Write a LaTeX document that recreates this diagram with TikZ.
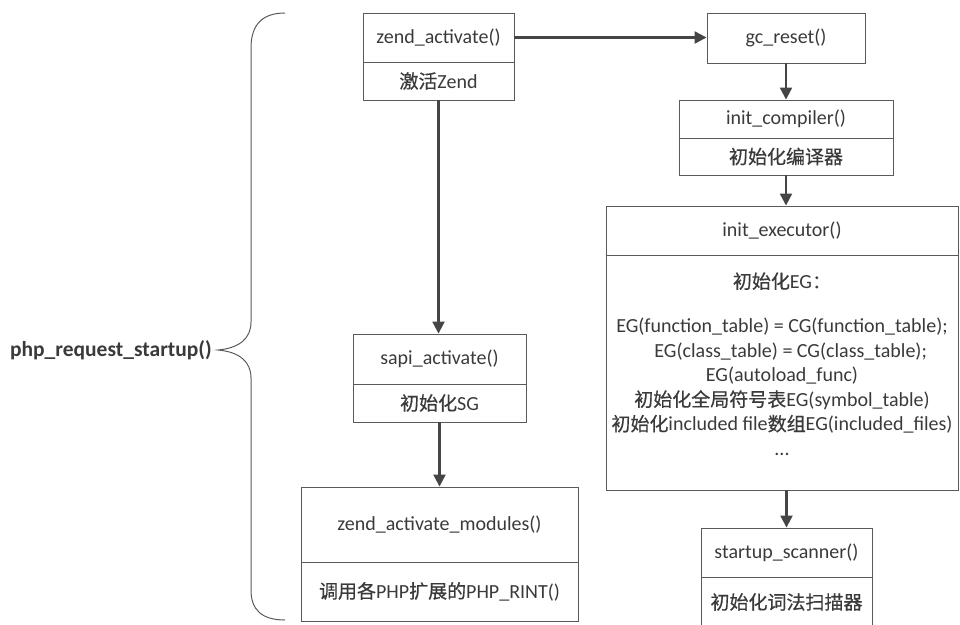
\documentclass[tikz,border=0pt]{standalone}
\usepackage{fontspec}
\setmainfont{Carlito}
\newfontfamily\zh[Scale=0.95,FakeBold=0.6]{Noto Sans CJK SC}
\usetikzlibrary{arrows.meta}
\definecolor{txt}{HTML}{3A3A3A}
\definecolor{edge}{HTML}{5A5A5A}
\definecolor{arr}{HTML}{454545}
\tikzset{
  cell/.style={draw=edge, line width=0.9pt, inner sep=0pt, text=txt,
    font=\fontsize{20}{24.5}\selectfont, align=center},
  flow/.style={draw=arr, line width=2.2pt,
    -{Triangle[length=12pt,width=12pt]}},
}
\begin{document}
\begin{tikzpicture}[x=1pt,y=-1pt]
\useasboundingbox (0,0) rectangle (960,624);

% left column
\node[cell, minimum width=151pt, minimum height=49pt] (za1) at (438.5,37.5) {zend\_activate()};
\node[cell, minimum width=151pt, minimum height=38pt] (za2) at (438.5,81) {{\zh 激活}Zend};
\node[cell, minimum width=173pt, minimum height=50pt] (sa1) at (439.5,359) {sapi\_activate()};
\node[cell, minimum width=173pt, minimum height=38pt] (sa2) at (439.5,403) {{\zh 初始化}SG};
\node[cell, minimum width=277pt, minimum height=75pt] (zm1) at (439.5,524.5) {zend\_activate\_modules()};
\node[cell, minimum width=277pt, minimum height=59pt] (zm2) at (439.5,591.5) {{\zh 调用各}PHP{\zh 扩展的}PHP\_RINT()};

% right column
\node[cell, minimum width=158pt, minimum height=50pt] (gc) at (786,38) {gc\_reset()};
\node[cell, minimum width=214pt, minimum height=38pt] (ic1) at (786,119) {init\_compiler()};
\node[cell, minimum width=214pt, minimum height=37pt] (ic2) at (786,156.5) {{\zh 初始化编译器}};
\node[cell, minimum width=352pt, minimum height=49pt] (ie1) at (782,230.5) {init\_executor()};
\node[cell, minimum width=352pt, minimum height=235pt] (ie2) at (782,372.5) {};
\node[text=txt, font=\fontsize{20}{24.5}\selectfont, align=center, inner sep=0pt] (ietext) at (782,364)
  {{\zh 初始化}EG{\zh ：}\\[20pt]
   EG(function\_table) = CG(function\_table);\\
   \hphantom{xx}EG(class\_table) = CG(class\_table);\\
   EG(autoload\_func)\\
   {\zh 初始化全局符号表}EG(symbol\_table)\\
   {\zh 初始化}included file{\zh 数组}EG(included\_files)\\
   ...};
\node[cell, minimum width=171pt, minimum height=49pt] (ss1) at (786.5,552.5) {startup\_scanner()};
\node[cell, minimum width=171pt, minimum height=50pt] (ss2) at (786.5,602) {{\zh 初始化词法扫描器}};

% connectors
\draw[flow] (za1.east) -- (gc.west |- za1.east);
\draw[flow] (za2.south) -- (za2.south |- sa1.north);
\draw[flow] (sa2.south) -- (sa2.south |- zm1.north);
\draw[flow] (gc.south) -- (ic1.north);
\draw[flow] (ic2.south) -- (ic2.south |- ie1.north);
\draw[flow] (ie2.south -| ss1.north) -- (ss1.north);

% brace and caption
\node[text=txt, font=\bfseries\fontsize{21.5}{24}\selectfont, anchor=east, inner sep=0pt] (lbl) at (212,350) {php\_request\_startup()};
\draw[draw=edge, line width=1pt]
  (285,13) .. controls (262,13) and (251,25) .. (251,48) -- (251,322)
  .. controls (251,338) and (240,348) .. (218,350)
  .. controls (240,352) and (251,362) .. (251,378) -- (251,590)
  .. controls (251,610) and (262,620) .. (285,620);
\end{tikzpicture}
\end{document}
